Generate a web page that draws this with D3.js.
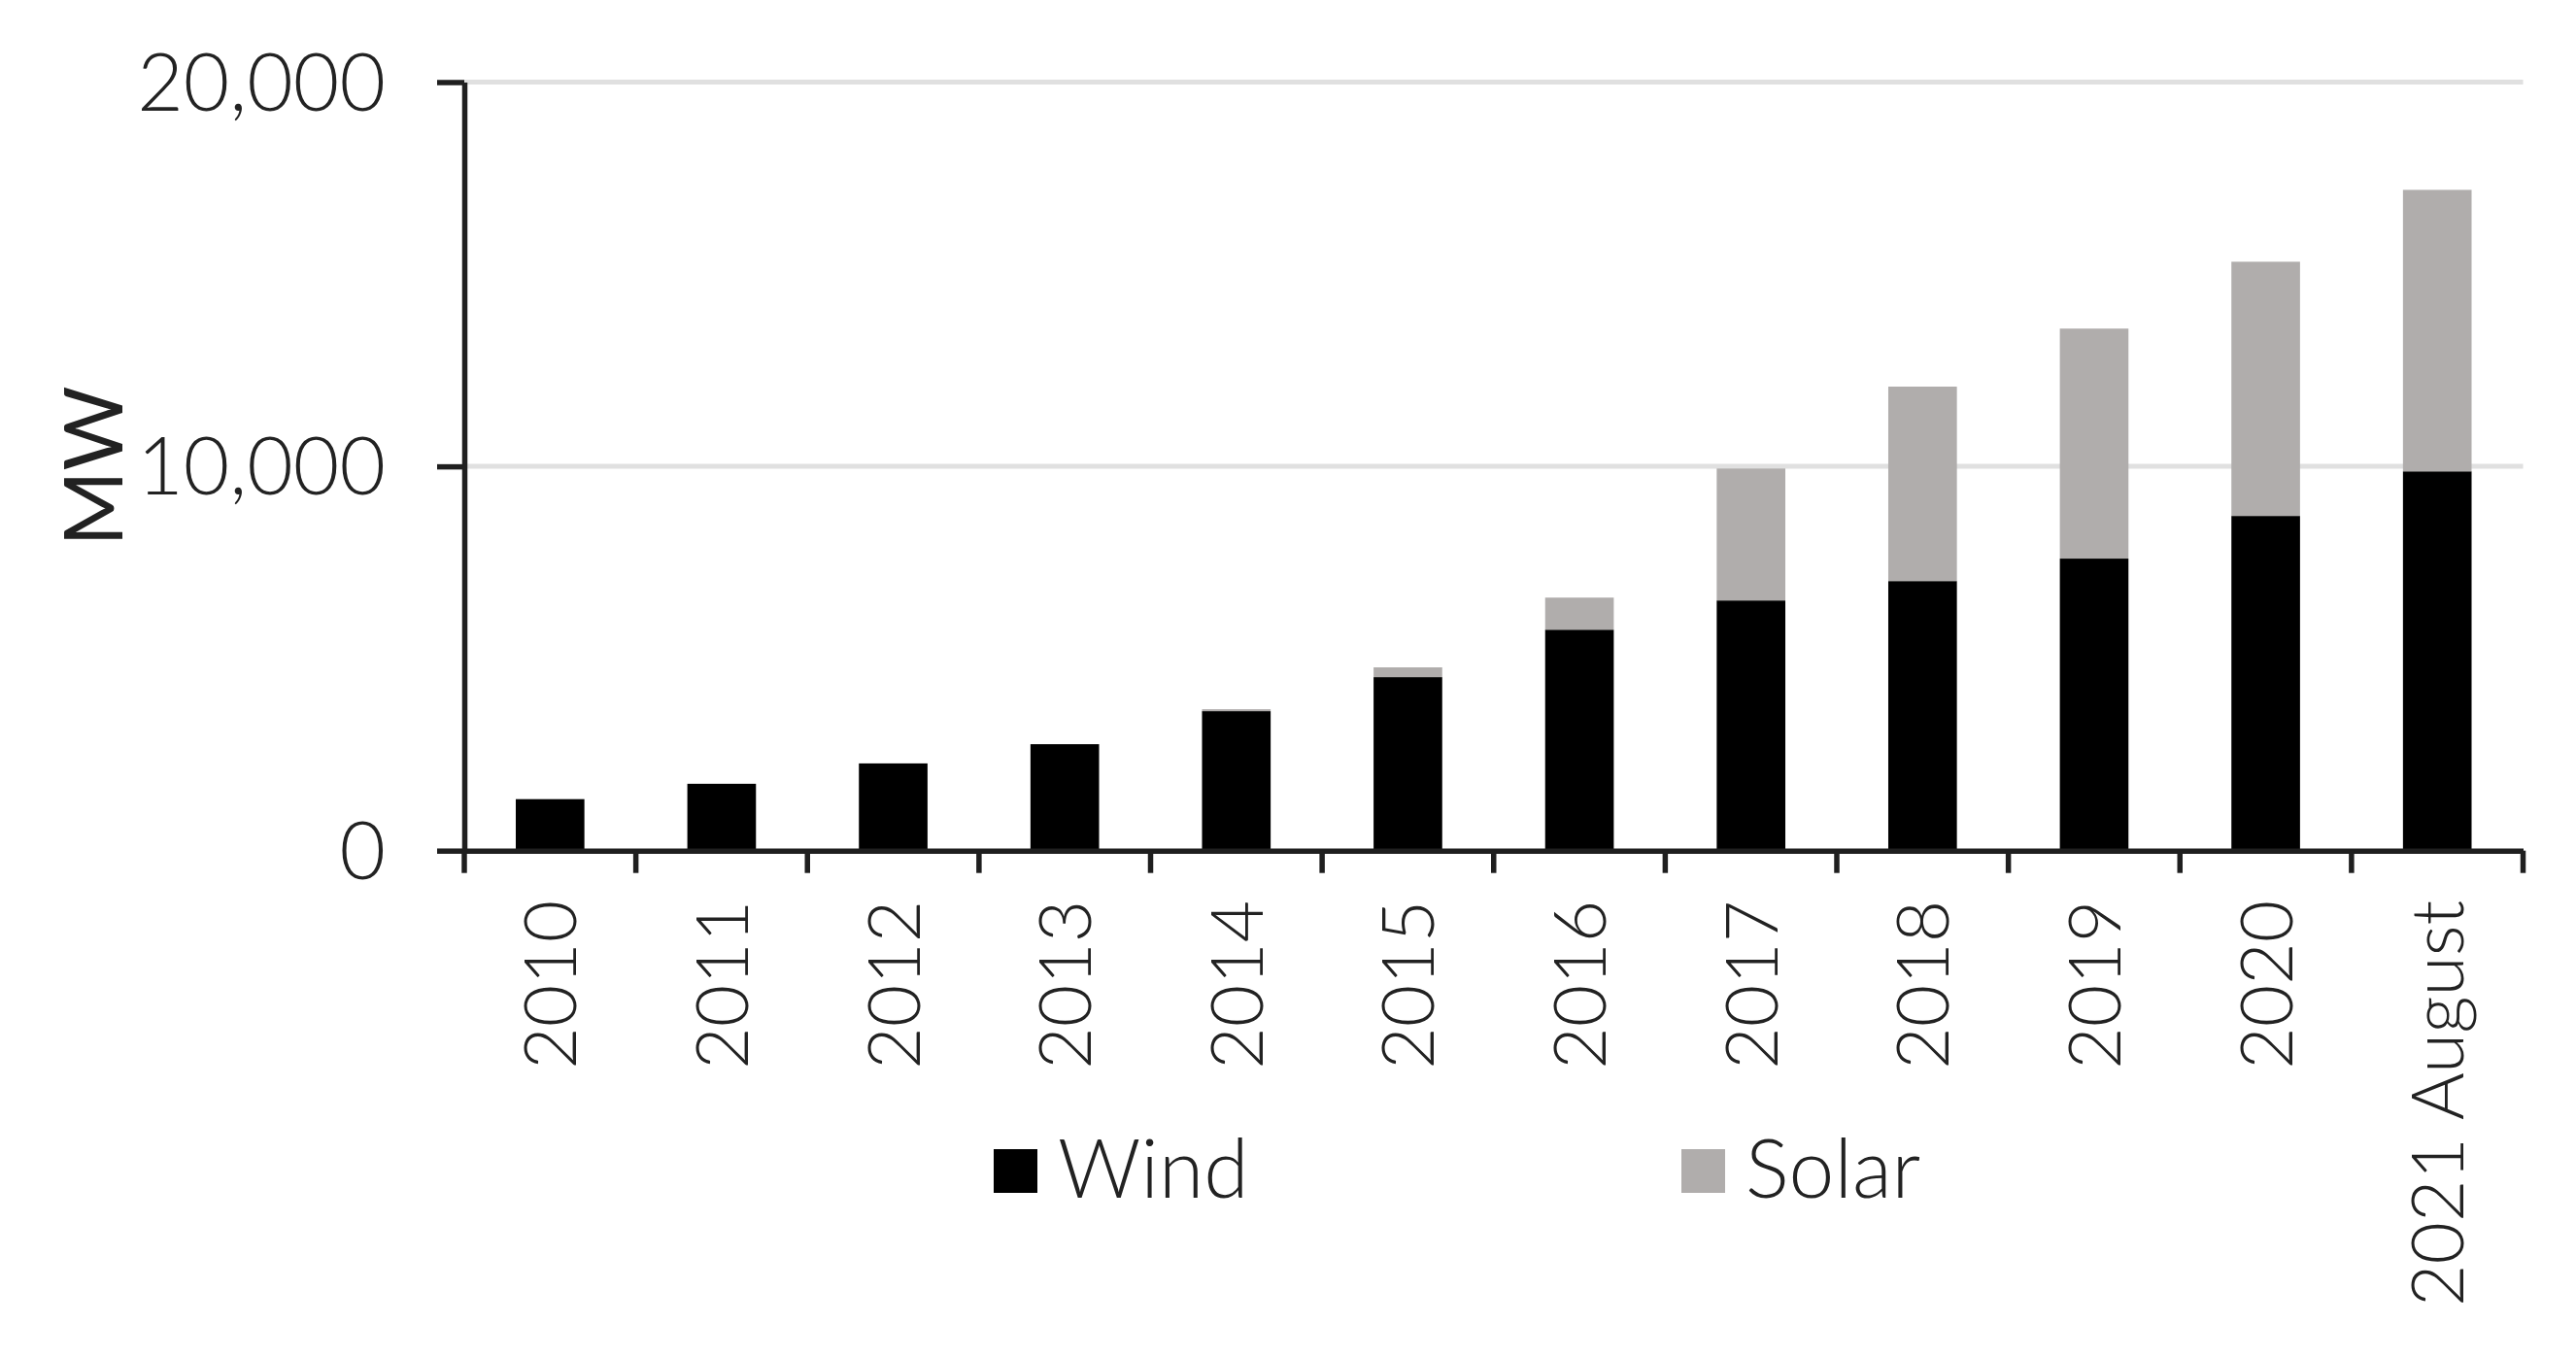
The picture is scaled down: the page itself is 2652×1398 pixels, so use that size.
<!DOCTYPE html>
<html>
<head>
<meta charset="utf-8">
<script src="https://cdn.jsdelivr.net/npm/d3@7"></script>
<style>
  body { margin: 0; background: #fff; }
  text { font-family: "Lato", "Open Sans", sans-serif; fill: #222; }
  .axis text { font-weight: 300; }
  .axis path, .axis line { stroke: #1f1f1f; stroke-width: 5.5; }
</style>
</head>
<body>
<svg id="chart"></svg>
<script>
// Chart values (MW).
const categories = ["2010", "2011", "2012", "2013", "2014", "2015",
  "2016", "2017", "2018", "2019", "2020", "2021 August"];
const wind = [1340, 1740, 2270, 2770, 3630, 4515, 5750, 6510, 7015, 7600, 8710, 9870];
const solar = [0, 0, 0, 0, 50, 255, 835, 3435, 5060, 5985, 6615, 7325];
const seriesNames = ["Wind", "Solar"];
const yTicks = [0, 10000, 20000];

const colors = { Wind: "#000000", Solar: "#b0adac" };

// Set svg size and plot margins.
const width = 2652;
const height = 1398;
const margin = {
  top: 84.5,
  bottom: 522.3,
  left: 478,
  right: 54.5
};

const svg = d3.select("#chart")
  .attr("width", width)
  .attr("height", height);

function translate(x, y) {
  return "translate(" + String(x) + "," + String(y) + ")";
}

const plotWidth = width - margin.left - margin.right;
const plotHeight = height - margin.top - margin.bottom;

const plot = svg.append("g")
  .attr("id", "plot")
  .attr("transform", translate(margin.left, margin.top));

// paddingOuter = paddingInner / 2 keeps step = width / n
const xScale = d3.scaleBand()
  .domain(categories)
  .range([0, plotWidth])
  .paddingInner(0.6)
  .paddingOuter(0.3);

const yScale = d3.scaleLinear()
  .domain([0, 20000])
  .range([plotHeight, 0]);

// build rows for the stack
const rows = categories.map((c, i) => ({ category: c, Wind: wind[i], Solar: solar[i] }));
const stacked = d3.stack().keys(seriesNames)(rows);

drawGrid();
drawBars();
drawAxis();
drawTitles();
drawLegend();

function drawGrid() {
  plot.append("g")
    .attr("id", "grid")
    .selectAll("line")
    .data(yTicks.filter(d => d > 0))
    .enter()
    .append("line")
    .attr("x1", 0)
    .attr("x2", plotWidth)
    .attr("y1", d => yScale(d))
    .attr("y2", d => yScale(d))
    .style("stroke", "#e0e0e0")
    .style("stroke-width", 5);
}

function drawBars() {
  let layers = plot.append("g")
    .attr("id", "bars")
    .selectAll("g")
    .data(stacked)
    .enter()
    .append("g")
    .style("fill", d => colors[d.key]);

  layers.selectAll("rect")
    .data(d => d)
    .enter()
    .filter(d => d[1] > d[0])
    .append("rect")
    .attr("x", d => xScale(d.data.category))
    .attr("width", xScale.bandwidth())
    .attr("y", d => yScale(d[1]))
    .attr("height", d => yScale(d[0]) - yScale(d[1]));
}

function drawAxis() {
  let yAxis = d3.axisLeft(yScale)
    .tickValues(yTicks)
    .tickFormat(d3.format(","))
    .tickSize(28)
    .tickSizeOuter(0)
    .tickPadding(53);

  let yGroup = plot.append("g")
    .attr("id", "y-axis")
    .attr("class", "axis")
    .call(yAxis);

  yGroup.selectAll("text")
    .style("font-size", "82px")
    .attr("dy", "0.35em");

  // x axis: labels only, ticks drawn at band edges below
  let xAxis = d3.axisBottom(xScale)
    .tickSize(0)
    .tickSizeOuter(0);

  let xGroup = plot.append("g")
    .attr("id", "x-axis")
    .attr("class", "axis")
    .attr("transform", translate(0, plotHeight))
    .call(xAxis);

  xGroup.selectAll("text")
    .style("font-size", "75px")
    .attr("transform", "rotate(-90)")
    .attr("text-anchor", "end")
    .attr("x", -51)
    .attr("y", 0)
    .attr("dy", "0.36em");

  // tick marks between categories
  xGroup.append("g")
    .selectAll("line")
    .data(d3.range(categories.length + 1))
    .enter()
    .append("line")
    .attr("x1", i => i * xScale.step())
    .attr("x2", i => i * xScale.step())
    .attr("y1", 0)
    .attr("y2", 23);
}

function drawTitles() {
  let yMiddle = margin.top + plotHeight / 2;

  let yTitle = svg.append("g")
    .attr("transform", translate(126, yMiddle))
    .append("text")
    .text("MW");

  yTitle.style("font-size", "84px");
  yTitle.attr("text-anchor", "middle");
  yTitle.attr("transform", "rotate(-90)");
}

function drawLegend() {
  let legend = svg.append("g")
    .attr("id", "legend")
    .attr("transform", translate(1023, 1183));

  let items = legend.selectAll("g")
    .data(seriesNames)
    .enter()
    .append("g")
    .attr("transform", (d, i) => translate(i * 708, 0));

  items.append("rect")
    .attr("width", 45)
    .attr("height", 45)
    .style("fill", d => colors[d]);

  items.append("text")
    .attr("x", 66)
    .attr("y", 50)
    .style("font-size", "84px")
    .style("font-weight", 300)
    .text(d => d);
}
</script>
</body>
</html>
